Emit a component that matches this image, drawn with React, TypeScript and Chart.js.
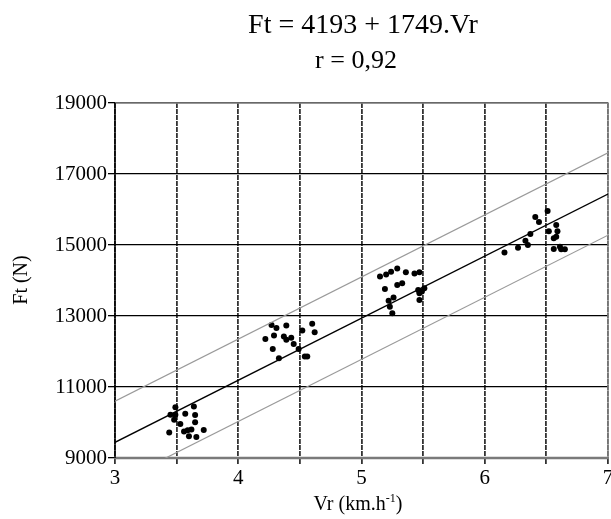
import React, { useEffect, useRef } from "react";
import { Chart, registerables } from "chart.js";

Chart.register(...registerables);

const SERIF = '"Liberation Serif", "Times New Roman", Times, serif';

// Regression Ft = a + b.Vr and the half-width of the band around it (N)
const INTERCEPT = 4193;
const SLOPE = 1749;
const BAND = 1160;
const R_VALUE = "0,92";

// Measured runs, grouped by speed (Vr in km/h, Ft in N)
const vr35 = [3.49, 3.64, 3.45, 3.49, 3.57, 3.65, 3.48, 3.65, 3.53, 3.44, 3.56, 3.59, 3.62, 3.72, 3.60, 3.66];
const ft35 = [10430, 10450, 10220, 10220, 10250, 10210, 10080, 10010, 9960, 9720, 9750, 9780, 9800, 9790, 9610, 9590];

const vr44 = [4.27, 4.31, 4.39, 4.60, 4.29, 4.62, 4.52, 4.22, 4.37, 4.39, 4.43, 4.45, 4.28, 4.49, 4.33, 4.54, 4.56];
const ft44 = [12750, 12660, 12730, 12780, 12450, 12540, 12590, 12350, 12420, 12330, 12390, 12210, 12070, 12070, 11810, 11860, 11860];

const vr53 = [5.15, 5.20, 5.24, 5.29, 5.36, 5.43, 5.47, 5.19, 5.29, 5.33, 5.46, 5.49, 5.51, 5.47, 5.22, 5.26, 5.23, 5.25, 5.47];
const ft53 = [14110, 14170, 14250, 14340, 14230, 14200, 14230, 13760, 13870, 13920, 13730, 13690, 13780, 13640, 13430, 13520, 13260, 13080, 13450];

const vr65 = [6.16, 6.27, 6.33, 6.35, 6.37, 6.41, 6.44, 6.51, 6.58, 6.59, 6.52, 6.58, 6.56, 6.56, 6.61, 6.62, 6.65];
const ft65 = [14790, 14920, 15120, 15000, 15310, 15790, 15650, 15960, 15560, 15390, 15390, 15230, 15190, 14890, 14950, 14880, 14880];

const VR_MIN = 3;
const VR_MAX = 7;
const FT_MIN = 9000;
const FT_MAX = 19000;
const FT_STEP = 2000;
const VR_GRID_STEP = 0.5;

const zipPoints = (xs: number[], ys: number[]) => xs.map((x, i) => ({ x, y: ys[i] }));
const fit = (v: number, shift = 0) => INTERCEPT + SLOPE * v + shift;
const fitLine = (shift: number) => [
  { x: VR_MIN, y: fit(VR_MIN, shift) },
  { x: VR_MAX, y: fit(VR_MAX, shift) },
];

const annotations = {
  id: "annotations",
  beforeDatasetsDraw(chart: Chart) {
    const { ctx, chartArea: a } = chart;
    ctx.save();
    // frame: grey top/right, heavy grey bottom, black left
    ctx.strokeStyle = "#8a8a8a";
    ctx.lineWidth = 1.5;
    ctx.beginPath();
    ctx.moveTo(a.left, a.top);
    ctx.lineTo(a.right, a.top);
    ctx.lineTo(a.right, a.bottom);
    ctx.stroke();
    ctx.strokeStyle = "#7a7a7a";
    ctx.lineWidth = 2.5;
    ctx.beginPath();
    ctx.moveTo(a.left - 1, a.bottom);
    ctx.lineTo(a.right + 1, a.bottom);
    ctx.stroke();
    ctx.strokeStyle = "#000";
    ctx.lineWidth = 1.5;
    ctx.beginPath();
    ctx.moveTo(a.left, a.top);
    ctx.lineTo(a.left, a.bottom);
    ctx.stroke();
    ctx.restore();
  },
  afterDraw(chart: Chart) {
    const { ctx } = chart;
    ctx.save();
    ctx.fillStyle = "#000";
    ctx.textAlign = "center";
    ctx.textBaseline = "alphabetic";
    ctx.font = `28px ${SERIF}`;
    ctx.fillText(`Ft = ${INTERCEPT} + ${SLOPE}.Vr`, 363, 33);
    ctx.font = `26px ${SERIF}`;
    ctx.fillText(`r = ${R_VALUE}`, 356, 68);

    // y axis title
    ctx.save();
    ctx.translate(22, 280);
    ctx.rotate(-Math.PI / 2);
    ctx.font = `20px ${SERIF}`;
    ctx.textBaseline = "middle";
    ctx.fillText("Ft (N)", 0, 0);
    ctx.restore();

    // x axis title with superscript unit
    const main = "Vr (km.h";
    const sup = "-1";
    const close = ")";
    const bigFont = `20px ${SERIF}`;
    const smallFont = `12px ${SERIF}`;
    ctx.font = bigFont;
    const wMain = ctx.measureText(main).width;
    const wClose = ctx.measureText(close).width;
    ctx.font = smallFont;
    const wSup = ctx.measureText(sup).width;
    const total = wMain + wSup + wClose;
    let x = 358 - total / 2;
    const base = 510;
    ctx.textAlign = "left";
    ctx.font = bigFont;
    ctx.fillText(main, x, base);
    x += wMain;
    ctx.font = smallFont;
    ctx.fillText(sup, x, base - 8);
    x += wSup;
    ctx.font = bigFont;
    ctx.fillText(close, x, base);
    ctx.restore();
  },
};

export default function App() {
  const canvasRef = useRef<HTMLCanvasElement | null>(null);

  useEffect(() => {
    const canvas = canvasRef.current;
    if (!canvas) return;

    const pointStyle = {
      type: "scatter" as const,
      showLine: false,
      pointRadius: 3,
      pointHoverRadius: 3,
      pointBackgroundColor: "#000",
      pointBorderWidth: 0,
      borderColor: "#000",
    };

    const chart = new Chart(canvas, {
      type: "scatter",
      data: {
        datasets: [
          {
            label: "band+",
            data: fitLine(BAND),
            showLine: true,
            borderColor: "#9a9a9a",
            borderWidth: 1.2,
            pointRadius: 0,
          },
          {
            label: "band-",
            data: fitLine(-BAND),
            showLine: true,
            borderColor: "#9a9a9a",
            borderWidth: 1.2,
            pointRadius: 0,
          },
          {
            label: "fit",
            data: fitLine(0),
            showLine: true,
            borderColor: "#000",
            borderWidth: 1.4,
            pointRadius: 0,
          },
          { label: "3.5", data: zipPoints(vr35, ft35), ...pointStyle },
          { label: "4.4", data: zipPoints(vr44, ft44), ...pointStyle },
          { label: "5.3", data: zipPoints(vr53, ft53), ...pointStyle },
          { label: "6.5", data: zipPoints(vr65, ft65), ...pointStyle },
        ],
      },
      options: {
        animation: false,
        responsive: false,
        devicePixelRatio: 1,
        layout: { padding: { left: 0, right: 2, top: 103, bottom: 0 } },
        plugins: {
          legend: { display: false },
          title: { display: false },
          tooltip: { enabled: false },
        },
        scales: {
          x: {
            type: "linear",
            min: VR_MIN,
            max: VR_MAX,
            afterFit(scale: any) {
              scale.height = 61;
              scale.paddingLeft = 0;
              scale.paddingRight = 0;
            },
            border: { display: false, dash: [5, 1] },
            grid: {
              color: "#333",
              lineWidth: 1.8,
              drawTicks: true,
              tickLength: 6,
              tickColor: "#333",
              tickWidth: 1.8,
            },
            ticks: {
              stepSize: VR_GRID_STEP,
              autoSkip: false,
              maxRotation: 0,
              padding: 2,
              color: "#000",
              font: { family: SERIF, size: 21 },
              callback: (v: any) => (Number.isInteger(Number(v)) ? String(v) : ""),
            },
          },
          y: {
            type: "linear",
            min: FT_MIN,
            max: FT_MAX,
            afterFit(scale: any) {
              scale.width = 115;
              scale.paddingTop = 0;
              scale.paddingBottom = 0;
            },
            border: { display: false },
            grid: {
              color: "#000",
              lineWidth: 1.3,
              drawTicks: true,
              tickLength: 7,
              tickColor: "#000",
              tickWidth: 1.3,
            },
            ticks: {
              stepSize: FT_STEP,
              padding: 1,
              color: "#000",
              font: { family: SERIF, size: 21 },
              callback: (v: any) => String(v),
            },
          },
        },
      },
      plugins: [annotations],
    });

    return () => chart.destroy();
  }, []);

  return (
    <div
      style={{
        position: "fixed",
        left: 0,
        top: 0,
        width: 611,
        height: 519,
        overflow: "hidden",
        background: "#fff",
      }}
    >
      <canvas ref={canvasRef} width={611} height={519} style={{ display: "block" }} />
    </div>
  );
}
